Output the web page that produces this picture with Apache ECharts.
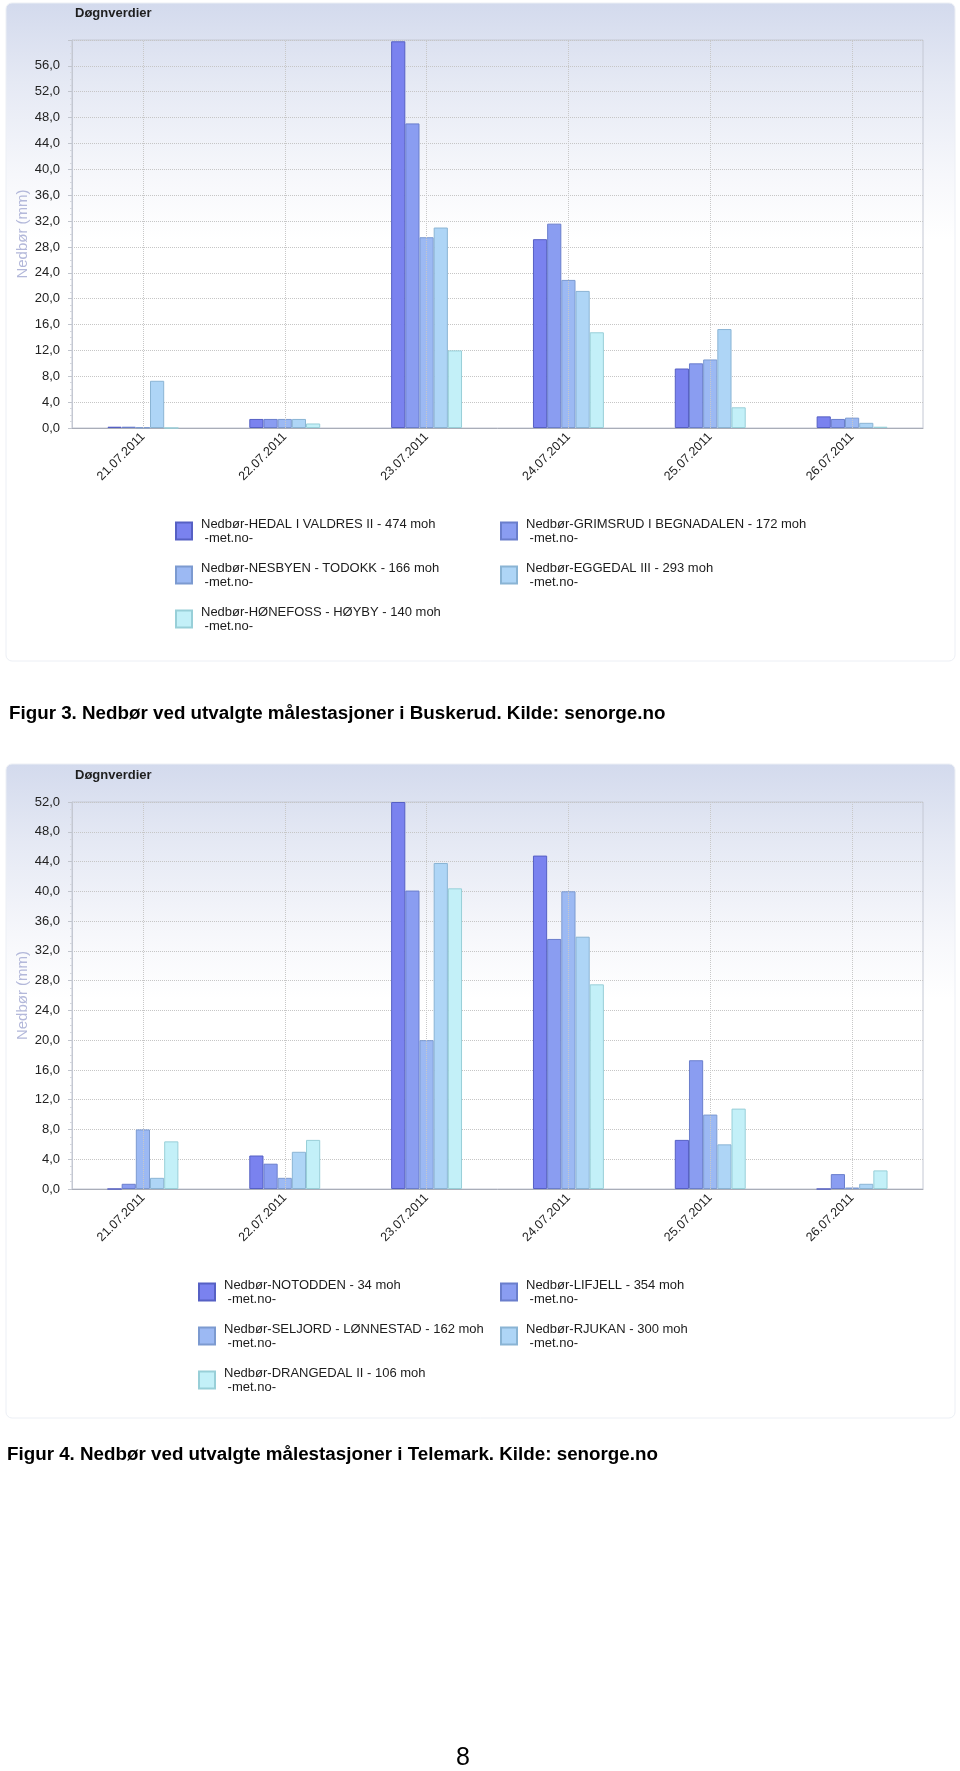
<!DOCTYPE html>
<html><head><meta charset="utf-8">
<script src="https://cdn.jsdelivr.net/npm/echarts@6/dist/echarts.min.js"></script>
<style>html,body{margin:0;padding:0;background:#fff}#c{width:960px;height:1771px}</style>
</head><body><div id="c"></div><script>
// ---- data ----
const categories = ['21.07.2011','22.07.2011','23.07.2011','24.07.2011','25.07.2011','26.07.2011'];

// Figur 3 - Buskerud
const buskerudStations = ['Nedbør-HEDAL I VALDRES II - 474 moh','Nedbør-GRIMSRUD I BEGNADALEN - 172 moh','Nedbør-NESBYEN - TODOKK - 166 moh','Nedbør-EGGEDAL III - 293 moh','Nedbør-HØNEFOSS - HØYBY - 140 moh'];
const hedal    = [0.2, 1.4, 59.8, 29.2,  9.2, 1.8];
const grimsrud = [0.2, 1.4, 47.1, 31.6, 10.0, 1.4];
const nesbyen  = [0.1, 1.4, 29.5, 22.9, 10.6, 1.6];
const eggedal  = [7.3, 1.4, 31.0, 21.2, 15.3, 0.8];
const honefoss = [0.0, 0.7, 12.0, 14.8,  3.2, 0.2];

// Figur 4 - Telemark
const telemarkStations = ['Nedbør-NOTODDEN - 34 moh','Nedbør-LIFJELL - 354 moh','Nedbør-SELJORD - LØNNESTAD - 162 moh','Nedbør-RJUKAN - 300 moh','Nedbør-DRANGEDAL II - 106 moh'];
const notodden  = [0.0, 4.5, 52.0, 44.8,  6.6, 0.0];
const lifjell   = [0.7, 3.4, 40.1, 33.6, 17.3, 2.0];
const seljord   = [8.0, 1.5, 20.0, 40.0, 10.0, 0.2];
const rjukan    = [1.5, 5.0, 43.8, 33.9,  6.0, 0.7];
const drangedal = [6.4, 6.6, 40.4, 27.5, 10.8, 2.5];

// y-axis tick settings
const yAxis1Ticks = {min: 0, max: 60, interval: 4};
const yAxis2Ticks = {min: 0, max: 52, interval: 4};

const chartTitle = 'Døgnverdier';
const yName = 'Nedbør (mm)';
const caption1 = 'Figur 3. Nedbør ved utvalgte målestasjoner i Buskerud. Kilde: senorge.no';
const caption2 = 'Figur 4. Nedbør ved utvalgte målestasjoner i Telemark. Kilde: senorge.no';
const pageNumber = '8';

// ---- styling ----
const FONT = 'Liberation Sans, Arial, sans-serif';
const colors  = ['#7a82ef', '#8a9df1', '#9cb9f3', '#aed5f6', '#c3f0f8'];
const borders = ['#5660c4', '#6a7ecc', '#7c9ad0', '#8ab4d4', '#98cfd8'];

const chart = echarts.init(document.getElementById('c'), null, {renderer: 'canvas'});

function panel(y, h) {
  return {
    type: 'rect', z: -10, silent: true,
    shape: {x: 6, y: y, width: 949, height: h, r: 6},
    style: {
      fill: new echarts.graphic.LinearGradient(0, 0, 0, 1, [
        {offset: 0, color: '#d3daed'},
        {offset: 0.12, color: '#e5e9f4'},
        {offset: 0.26, color: '#f6f7fb'},
        {offset: 0.36, color: '#ffffff'},
        {offset: 1, color: '#ffffff'}
      ]),
      stroke: '#eceff5', lineWidth: 1
    }
  };
}

function bars(names, values, gi) {
  return names.map((n, i) => ({
    type: 'bar', name: n, xAxisIndex: gi, yAxisIndex: gi, data: values[i],
    barGap: '0%', barCategoryGap: '50%', z: 3,
    itemStyle: {color: colors[i], borderColor: borders[i], borderWidth: 1}
  }));
}

function vGrid(gi) {
  return {
    type: 'line', name: 'vgrid' + gi, xAxisIndex: gi, yAxisIndex: gi, data: [], z: 1, silent: true,
    markLine: {
      silent: true, symbol: 'none', animation: false,
      label: {show: false},
      lineStyle: {color: '#c8c8c8', type: 'dotted', width: 1},
      data: categories.map(c => ({xAxis: c}))
    }
  };
}

function xAx(gi) {
  return {
    type: 'category', gridIndex: gi, data: categories,
    axisLine: {show: true, lineStyle: {color: '#a9adb8'}},
    axisTick: {show: false},
    splitLine: {show: false},
    axisLabel: {interval: 0, rotate: 45, margin: 7, fontSize: 12.5, color: '#222', fontFamily: FONT}
  };
}

function yAx(gi, t, showMax) {
  return {
    type: 'value', gridIndex: gi, min: t.min, max: t.max, interval: t.interval,
    name: yName, nameLocation: 'middle', nameGap: 42, nameRotate: 90, nameMoveOverlap: false,
    nameTextStyle: {color: '#b3b8da', fontSize: 15, fontFamily: FONT},
    axisLine: {show: true, lineStyle: {color: '#c4c8d2'}},
    axisTick: {show: true, length: 4, lineStyle: {color: '#c0c4cc'}},
    minorTick: {show: true, splitNumber: 4, length: 2, lineStyle: {color: '#d4d7de'}},
    splitLine: {show: true, lineStyle: {color: '#c6c6c6', type: 'dotted'}},
    axisLabel: {
      showMaxLabel: showMax, margin: 12, fontSize: 13, color: '#222', fontFamily: FONT,
      formatter: v => v.toFixed(1).replace('.', ',')
    }
  };
}

function legendCol(names, left, top) {
  return {
    data: names, left: left, top: top, orient: 'vertical', padding: 0,
    itemGap: 2, itemWidth: 16, itemHeight: 17, icon: 'rect', selectedMode: false,
    formatter: name => name + '\n -met.no-',
    textStyle: {fontSize: 13, lineHeight: 14, color: '#1c1c1c', fontFamily: FONT, padding: [14, 0, 0, 4]}
  };
}

const option = {
  animation: false,
  backgroundColor: '#ffffff',
  graphic: [
    panel(3, 658),
    panel(764, 654),
    {type: 'text', silent: true, x: 9, y: 714, style: {text: caption1, font: 'bold 18.8px ' + FONT, fill: '#000', textVerticalAlign: 'middle'}},
    {type: 'text', silent: true, x: 7, y: 1455, style: {text: caption2, font: 'bold 18.8px ' + FONT, fill: '#000', textVerticalAlign: 'middle'}},
    {type: 'text', silent: true, x: 463, y: 1758, style: {text: pageNumber, font: '25px ' + FONT, fill: '#000', textAlign: 'center', textVerticalAlign: 'middle'}}
  ],
  title: [
    {text: chartTitle, left: 75, top: 7, padding: 0, textStyle: {fontSize: 13, fontWeight: 'bold', color: '#1e1e1e', fontFamily: FONT}},
    {text: chartTitle, left: 75, top: 769, padding: 0, textStyle: {fontSize: 13, fontWeight: 'bold', color: '#1e1e1e', fontFamily: FONT}}
  ],
  legend: [
    legendCol([buskerudStations[0], buskerudStations[2], buskerudStations[4]], 175, 510),
    legendCol([buskerudStations[1], buskerudStations[3]], 500, 510),
    legendCol([telemarkStations[0], telemarkStations[2], telemarkStations[4]], 198, 1271),
    legendCol([telemarkStations[1], telemarkStations[3]], 500, 1271)
  ],
  grid: [
    {left: 72, top: 40, width: 851, height: 388, show: true, borderColor: '#c4c8d4', borderWidth: 1, backgroundColor: 'transparent'},
    {left: 72, top: 802, width: 851, height: 387, show: true, borderColor: '#c4c8d4', borderWidth: 1, backgroundColor: 'transparent'}
  ],
  xAxis: [xAx(0), xAx(1)],
  yAxis: [yAx(0, yAxis1Ticks, false), yAx(1, yAxis2Ticks, true)],
  series: [
    vGrid(0), vGrid(1),
    ...bars(buskerudStations, [hedal, grimsrud, nesbyen, eggedal, honefoss], 0),
    ...bars(telemarkStations, [notodden, lifjell, seljord, rjukan, drangedal], 1)
  ]
};
chart.setOption(option);
</script></body></html>
